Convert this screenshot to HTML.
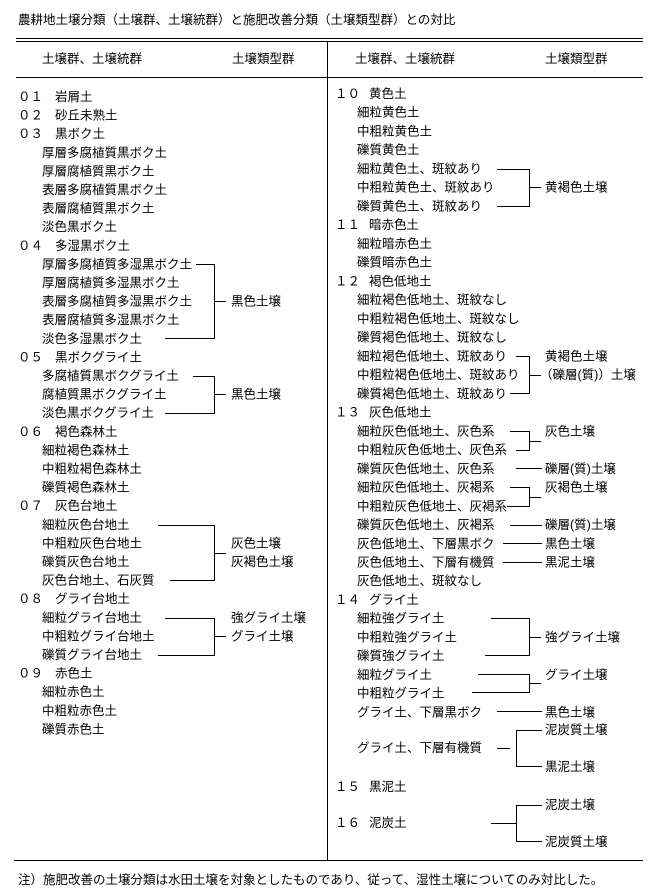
<!DOCTYPE html>
<html><head><meta charset="utf-8"><style>
html,body{margin:0;padding:0;background:#fff;}
svg{display:block;}
text{font-family:"Liberation Sans","Noto Sans CJK JP",sans-serif;font-size:12.5px;fill:#000;dominant-baseline:central;}
line{stroke:#000;stroke-width:1;}
</style></head><body>
<svg width="671" height="894" xmlns="http://www.w3.org/2000/svg">
<text x="18" y="20">農耕地土壌分類（土壌群、土壌統群）と施肥改善分類（土壌類型群）との対比</text>
<line x1="16" y1="38.5" x2="643" y2="38.5"/>
<line x1="16" y1="41.5" x2="643" y2="41.5"/>
<line x1="16" y1="77.5" x2="643" y2="77.5"/>
<line x1="327.5" y1="41" x2="327.5" y2="860"/>
<line x1="14" y1="860.5" x2="643" y2="860.5"/>
<text x="42" y="59">土壌群、土壌統群</text>
<text x="232" y="59">土壌類型群</text>
<text x="355" y="59">土壌群、土壌統群</text>
<text x="545" y="59">土壌類型群</text>

<!-- left column -->
<text x="18" y="97">０１</text><text x="55" y="97">岩屑土</text>
<text x="18" y="115.6">０２</text><text x="55" y="115.6">砂丘未熟土</text>
<text x="18" y="134.2">０３</text><text x="55" y="134.2">黒ボク土</text>
<text x="42" y="152.8">厚層多腐植質黒ボク土</text>
<text x="42" y="171.4">厚層腐植質黒ボク土</text>
<text x="42" y="190">表層多腐植質黒ボク土</text>
<text x="42" y="208.6">表層腐植質黒ボク土</text>
<text x="42" y="227.2">淡色黒ボク土</text>
<text x="18" y="245.8">０４</text><text x="55" y="245.8">多湿黒ボク土</text>
<text x="42" y="264.4">厚層多腐植質多湿黒ボク土</text>
<text x="42" y="283">厚層腐植質多湿黒ボク土</text>
<text x="42" y="301.6">表層多腐植質多湿黒ボク土</text>
<text x="42" y="320.2">表層腐植質多湿黒ボク土</text>
<text x="42" y="338.8">淡色多湿黒ボク土</text>
<line x1="196" y1="264.5" x2="214" y2="264.5"/>
<line x1="165" y1="338.5" x2="214" y2="338.5"/>
<line x1="214.5" y1="264" x2="214.5" y2="339"/>
<line x1="214" y1="301.5" x2="226" y2="301.5"/>
<text x="231" y="301.6">黒色土壌</text>
<text x="18" y="357.4">０５</text><text x="55" y="357.4">黒ボクグライ土</text>
<text x="42" y="376">多腐植質黒ボクグライ土</text>
<text x="42" y="394.6">腐植質黒ボクグライ土</text>
<text x="42" y="413.2">淡色黒ボクグライ土</text>
<line x1="193" y1="376.5" x2="214" y2="376.5"/>
<line x1="165" y1="413.5" x2="214" y2="413.5"/>
<line x1="214.5" y1="376" x2="214.5" y2="414"/>
<line x1="214" y1="394.5" x2="226" y2="394.5"/>
<text x="231" y="394.6">黒色土壌</text>
<text x="18" y="431.8">０６</text><text x="55" y="431.8">褐色森林土</text>
<text x="42" y="450.4">細粒褐色森林土</text>
<text x="42" y="469">中粗粒褐色森林土</text>
<text x="42" y="487.6">礫質褐色森林土</text>
<text x="18" y="506.2">０７</text><text x="55" y="506.2">灰色台地土</text>
<text x="42" y="524.8">細粒灰色台地土</text>
<text x="42" y="543.4">中粗粒灰色台地土</text>
<text x="42" y="562">礫質灰色台地土</text>
<text x="42" y="580.6">灰色台地土、石灰質</text>
<line x1="158" y1="525.5" x2="214" y2="525.5"/>
<line x1="170" y1="580.5" x2="214" y2="580.5"/>
<line x1="214.5" y1="525" x2="214.5" y2="581"/>
<line x1="214" y1="553.5" x2="226" y2="553.5"/>
<text x="231" y="543.4">灰色土壌</text>
<text x="231" y="562">灰褐色土壌</text>
<text x="18" y="599.2">０８</text><text x="55" y="599.2">グライ台地土</text>
<text x="42" y="617.8">細粒グライ台地土</text>
<text x="42" y="636.4">中粗粒グライ台地土</text>
<text x="42" y="655">礫質グライ台地土</text>
<line x1="165" y1="618.5" x2="214" y2="618.5"/>
<line x1="158" y1="655.5" x2="214" y2="655.5"/>
<line x1="214.5" y1="618" x2="214.5" y2="656"/>
<line x1="214" y1="636.5" x2="226" y2="636.5"/>
<text x="231" y="617.8">強グライ土壌</text>
<text x="231" y="636.4">グライ土壌</text>
<text x="18" y="673.6">０９</text><text x="55" y="673.6">赤色土</text>
<text x="42" y="692.2">細粒赤色土</text>
<text x="42" y="710.8">中粗粒赤色土</text>
<text x="42" y="729.4">礫質赤色土</text>

<!-- right column -->
<text x="335" y="94">１０</text><text x="369" y="94">黄色土</text>
<text x="357" y="112.7">細粒黄色土</text>
<text x="357" y="131.5">中粗粒黄色土</text>
<text x="357" y="150.2">礫質黄色土</text>
<text x="357" y="169">細粒黄色土、斑紋あり</text>
<text x="357" y="187.7">中粗粒黄色土、斑紋あり</text>
<text x="357" y="206.4">礫質黄色土、斑紋あり</text>
<line x1="497" y1="169.5" x2="529" y2="169.5"/>
<line x1="497" y1="206.5" x2="529" y2="206.5"/>
<line x1="529.5" y1="169" x2="529.5" y2="207"/>
<line x1="529" y1="187.5" x2="541" y2="187.5"/>
<text x="545" y="187.7">黄褐色土壌</text>
<text x="335" y="225.2">１１</text><text x="369" y="225.2">暗赤色土</text>
<text x="357" y="243.9">細粒暗赤色土</text>
<text x="357" y="262.7">礫質暗赤色土</text>
<text x="335" y="281.4">１２</text><text x="369" y="281.4">褐色低地土</text>
<text x="357" y="300.1">細粒褐色低地土、斑紋なし</text>
<text x="357" y="318.9">中粗粒褐色低地土、斑紋なし</text>
<text x="357" y="337.6">礫質褐色低地土、斑紋なし</text>
<text x="357" y="356.4">細粒褐色低地土、斑紋あり</text>
<text x="357" y="375.1">中粗粒褐色低地土、斑紋あり</text>
<text x="357" y="393.8">礫質褐色低地土、斑紋あり</text>
<line x1="516" y1="356.5" x2="529" y2="356.5"/>
<line x1="510" y1="393.5" x2="529" y2="393.5"/>
<line x1="529.5" y1="356" x2="529.5" y2="394"/>
<line x1="529" y1="375.5" x2="541" y2="375.5"/>
<text x="545" y="356.4">黄褐色土壌</text>
<text x="540" y="375.1">（礫層(質)）土壌</text>
<text x="335" y="412.6">１３</text><text x="369" y="412.6">灰色低地土</text>
<text x="357" y="431.3">細粒灰色低地土、灰色系</text>
<text x="357" y="450">中粗粒灰色低地土、灰色系</text>
<line x1="510" y1="431.5" x2="529" y2="431.5"/>
<line x1="516" y1="450.5" x2="529" y2="450.5"/>
<line x1="529.5" y1="431" x2="529.5" y2="451"/>
<line x1="529" y1="441.5" x2="541" y2="441.5"/>
<text x="545" y="431.3">灰色土壌</text>
<text x="357" y="468.8">礫質灰色低地土、灰色系</text>
<line x1="516" y1="468.5" x2="542" y2="468.5"/>
<text x="545" y="468.8">礫層(質)土壌</text>
<text x="357" y="487.5">細粒灰色低地土、灰褐系</text>
<text x="357" y="506.3">中粗粒灰色低地土、灰褐系</text>
<line x1="510" y1="487.5" x2="529" y2="487.5"/>
<line x1="507" y1="506.5" x2="529" y2="506.5"/>
<line x1="529.5" y1="487" x2="529.5" y2="507"/>
<line x1="529" y1="497.5" x2="541" y2="497.5"/>
<text x="545" y="487.5">灰褐色土壌</text>
<text x="357" y="525">礫質灰色低地土、灰褐系</text>
<line x1="510" y1="525.5" x2="542" y2="525.5"/>
<text x="545" y="525">礫層(質)土壌</text>
<text x="357" y="543.8">灰色低地土、下層黒ボク</text>
<line x1="503" y1="543.5" x2="542" y2="543.5"/>
<text x="545" y="543.8">黒色土壌</text>
<text x="357" y="562.5">灰色低地土、下層有機質</text>
<line x1="503" y1="562.5" x2="542" y2="562.5"/>
<text x="545" y="562.5">黒泥土壌</text>
<text x="357" y="581.2">灰色低地土、斑紋なし</text>
<text x="335" y="600">１４</text><text x="369" y="600">グライ土</text>
<text x="357" y="618.7">細粒強グライ土</text>
<text x="357" y="637.5">中粗粒強グライ土</text>
<text x="357" y="656.2">礫質強グライ土</text>
<line x1="491" y1="618.5" x2="529" y2="618.5"/>
<line x1="485" y1="655.5" x2="529" y2="655.5"/>
<line x1="529.5" y1="618" x2="529.5" y2="656"/>
<line x1="529" y1="637.5" x2="541" y2="637.5"/>
<text x="545" y="637.5">強グライ土壌</text>
<text x="357" y="675">細粒グライ土</text>
<text x="357" y="693.7">中粗粒グライ土</text>
<line x1="478" y1="674.5" x2="529" y2="674.5"/>
<line x1="472" y1="692.5" x2="529" y2="692.5"/>
<line x1="529.5" y1="674" x2="529.5" y2="693"/>
<line x1="529" y1="683.5" x2="541" y2="683.5"/>
<text x="545" y="675">グライ土壌</text>
<text x="357" y="712.4">グライ土、下層黒ボク</text>
<line x1="497" y1="711.5" x2="542" y2="711.5"/>
<text x="545" y="712.4">黒色土壌</text>
<text x="357" y="748">グライ土、下層有機質</text>
<line x1="497" y1="748.5" x2="510" y2="748.5"/>
<line x1="516.5" y1="730" x2="516.5" y2="767"/>
<line x1="516" y1="730.5" x2="542" y2="730.5"/>
<line x1="516" y1="766.5" x2="542" y2="766.5"/>
<text x="545" y="730">泥炭質土壌</text>
<text x="545" y="767">黒泥土壌</text>
<text x="335" y="787">１５</text><text x="369" y="787">黒泥土</text>
<text x="335" y="823">１６</text><text x="369" y="823">泥炭土</text>
<line x1="491" y1="823.5" x2="516" y2="823.5"/>
<line x1="516.5" y1="805" x2="516.5" y2="842"/>
<line x1="516" y1="805.5" x2="542" y2="805.5"/>
<line x1="516" y1="841.5" x2="542" y2="841.5"/>
<text x="545" y="805">泥炭土壌</text>
<text x="545" y="842">泥炭質土壌</text>

<text x="18" y="880">注）施肥改善の土壌分類は水田土壌を対象としたものであり、従って、湿性土壌についてのみ対比した。</text>
</svg>
</body></html>
